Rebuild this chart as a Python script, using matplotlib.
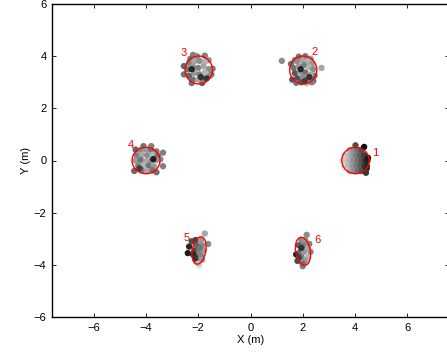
import numpy as np
import matplotlib.pyplot as plt
from matplotlib.patches import Ellipse

plt.rcParams['font.family'] = ['Liberation Sans', 'DejaVu Sans']

# fitted ellipses: centre x, centre y, width, height, angle
ell_x = [4.02, 2.02, -1.98, -4.0, -1.97, 2.01]
ell_y = [0.0, 3.47, 3.47, 0.0, -3.45, -3.48]
ell_w = [1.05, 1.04, 1.05, 1.07, 0.52, 0.56]
ell_h = [1.01, 1.07, 1.07, 1.01, 1.06, 1.08]
ell_a = [0, 0, 0, 0, -10, 10]

# label positions
lab_txt = ['1', '2', '3', '4', '5', '6']
lab_x = [4.78, 2.47, -2.54, -4.58, -2.43, 2.57]
lab_y = [0.28, 4.17, 4.13, 0.59, -2.98, -3.03]

# cluster 1 (gradient light -> dark from left to right)
c1_x = [3.52, 3.6, 3.6, 3.65, 3.75, 3.75, 3.8, 3.8, 3.8, 3.9, 3.9, 3.95, 3.95, 3.95,
        4.05, 4.05, 4.1, 4.1, 4.1, 4.2, 4.2, 4.25, 4.25, 4.25, 4.35, 4.35, 4.4, 4.4,
        4.45, 4.48, 4.02, 4.35, 4.5, 4.45, 4.42]
c1_y = [0.0, 0.2, -0.2, 0.0, 0.2, -0.2, 0.4, 0.0, -0.4, 0.2, -0.2, 0.4, 0.0, -0.4,
        0.2, -0.2, 0.4, 0.0, -0.4, 0.2, -0.2, 0.4, 0.0, -0.4, 0.2, -0.2, 0.0, -0.4,
        -0.2, 0.0, 0.58, 0.52, 0.1, -0.3, -0.47]
c1_g = [0.88, 0.82, 0.82, 0.78, 0.72, 0.72, 0.68, 0.68, 0.68, 0.6, 0.6, 0.56, 0.56, 0.56,
        0.48, 0.48, 0.44, 0.44, 0.44, 0.36, 0.36, 0.32, 0.32, 0.32, 0.24, 0.24, 0.2, 0.2,
        0.16, 0.14, 0.3, 0.05, 0.1, 0.15, 0.22]

# cluster 2
c2_x = [1.2, 2.72, 1.55, 1.6, 2.45, 2.4, 2.1, 1.85, 2.3, 1.7, 1.8, 2.0, 2.2, 2.35, 1.65,
        1.85, 2.05, 2.25, 2.4, 1.7, 1.9, 2.1, 2.3, 1.8, 2.0, 2.2, 1.75, 1.95, 2.15, 2.35,
        1.92, 2.25, 2.08]
c2_y = [3.82, 3.55, 3.7, 3.1, 3.25, 3.05, 4.0, 3.98, 3.9, 3.85, 3.8, 3.82, 3.78, 3.7, 3.55,
        3.6, 3.65, 3.58, 3.5, 3.35, 3.4, 3.38, 3.3, 3.15, 3.2, 3.12, 2.98, 3.0, 2.96, 3.0,
        3.5, 3.2, 3.05]
c2_g = [0.55, 0.65, 0.45, 0.35, 0.45, 0.4, 0.5, 0.45, 0.6, 0.5, 0.55, 0.65, 0.7, 0.6, 0.45,
        0.6, 0.5, 0.7, 0.55, 0.35, 0.6, 0.45, 0.65, 0.3, 0.55, 0.4, 0.45, 0.35, 0.75, 0.5,
        0.15, 0.2, 0.25]

# cluster 3
c3_x = [-2.2, -1.75, -2.55, -2.55, -1.45, -1.5, -2.25, -1.85, -2.05, -2.3, -1.6, -2.35,
        -2.15, -1.95, -1.75, -2.4, -2.2, -2.0, -1.8, -1.6, -2.35, -2.15, -1.95, -1.75,
        -1.55, -2.2, -2.0, -1.8, -2.25, -1.9, -1.68]
c3_y = [4.05, 4.02, 3.62, 3.3, 3.52, 3.3, 2.97, 2.97, 4.0, 3.9, 3.85, 3.75, 3.8, 3.82,
        3.78, 3.5, 3.6, 3.55, 3.62, 3.5, 3.25, 3.35, 3.3, 3.38, 3.25, 3.1, 3.1, 3.08,
        3.5, 3.2, 3.15]
c3_g = [0.5, 0.5, 0.4, 0.45, 0.5, 0.45, 0.45, 0.4, 0.55, 0.45, 0.6, 0.5, 0.65, 0.55,
        0.7, 0.45, 0.6, 0.5, 0.65, 0.55, 0.4, 0.6, 0.5, 0.7, 0.55, 0.45, 0.65, 0.5,
        0.15, 0.2, 0.2]

# cluster 4
c4_x = [-3.35, -3.35, -3.45, -3.8, -4.1, -4.4, -4.45, -3.6, -4.2, -4.0, -3.8, -3.6,
        -4.35, -4.15, -3.95, -3.75, -3.55, -4.4, -4.2, -4.0, -3.8, -3.6, -4.3, -4.1,
        -3.9, -3.7, -4.15, -3.95, -3.75, -3.72, -4.25]
c4_y = [0.3, -0.22, 0.05, 0.55, 0.55, 0.42, -0.4, -0.45, 0.4, 0.42, 0.4, 0.35, 0.2,
        0.22, 0.2, 0.22, 0.18, 0.0, 0.02, -0.02, 0.0, 0.02, -0.2, -0.18, -0.2, -0.22,
        -0.38, -0.4, -0.38, 0.05, -0.3]
c4_g = [0.5, 0.5, 0.55, 0.5, 0.45, 0.4, 0.4, 0.45, 0.55, 0.6, 0.45, 0.5, 0.5, 0.65,
        0.55, 0.7, 0.45, 0.6, 0.45, 0.65, 0.55, 0.6, 0.5, 0.7, 0.45, 0.6, 0.5, 0.65,
        0.45, 0.12, 0.25]

# cluster 5
c5_x = [-1.75, -1.62, -1.95, -2.35, -2.4, -2.25, -2.1, -1.9, -2.05, -1.85, -2.15,
        -1.95, -1.8, -2.1, -1.9, -2.05, -1.85, -2.0, -1.95, -2.2, -2.12]
c5_y = [-2.8, -3.2, -4.05, -3.3, -3.55, -3.1, -3.05, -3.05, -3.25, -3.25, -3.45,
        -3.45, -3.45, -3.65, -3.65, -3.85, -3.8, -3.95, -3.35, -3.6, -3.75]
c5_g = [0.65, 0.55, 0.9, 0.15, 0.1, 0.3, 0.25, 0.6, 0.4, 0.55, 0.3, 0.5, 0.6,
        0.35, 0.5, 0.45, 0.6, 0.75, 0.45, 0.15, 0.2]

# cluster 6
c6_x = [2.15, 2.25, 1.75, 2.0, 2.3, 1.95, 2.1, 1.85, 2.05, 2.2, 1.9, 2.05, 2.2, 1.95,
        2.1, 2.0, 1.8, 1.95, 1.85]
c6_y = [-2.85, -3.2, -3.6, -4.05, -3.5, -3.05, -3.05, -3.25, -3.25, -3.35, -3.5,
        -3.5, -3.7, -3.7, -3.85, -3.95, -3.85, -3.35, -3.72]
c6_g = [0.55, 0.5, 0.1, 0.5, 0.55, 0.55, 0.6, 0.35, 0.5, 0.65, 0.4, 0.6, 0.7, 0.5,
        0.6, 0.45, 0.3, 0.2, 0.25]


def main():
    fig = plt.figure(figsize=(4.47, 3.56), dpi=100)
    ax = fig.add_axes([52 / 447, 39 / 356, 397 / 447, 313 / 356])

    clusters = [(c1_x, c1_y, c1_g), (c2_x, c2_y, c2_g), (c3_x, c3_y, c3_g),
                (c4_x, c4_y, c4_g), (c5_x, c5_y, c5_g), (c6_x, c6_y, c6_g)]
    for cx, cy, cg in clusters:
        cols = [(g, g, g) for g in cg]
        ax.scatter(cx, cy, s=21, c=cols, edgecolors='none', zorder=2)

    for i in range(len(ell_x)):
        e = Ellipse((ell_x[i], ell_y[i]), ell_w[i], ell_h[i], angle=ell_a[i],
                    fill=False, edgecolor='red', linewidth=1.0, zorder=3)
        ax.add_patch(e)
        ax.text(lab_x[i], lab_y[i], lab_txt[i], color='red', fontsize=8,
                ha='center', va='center', zorder=4)

    ax.set_xlim(-7.6, 7.6)
    ax.set_ylim(-6, 6)
    ax.set_xticks(np.arange(-6, 7, 2))
    ax.set_yticks(np.arange(-6, 7, 2))
    ax.set_xticklabels(['\u22126', '\u22124', '\u22122', '0', '2', '4', '6'])
    ax.set_yticklabels(['\u22126', '\u22124', '\u22122', '0', '2', '4', '6'])
    ax.tick_params(direction='in', top=True, right=True, labelsize=8,
                   length=3, width=0.6, pad=4)
    for sp in ax.spines.values():
        sp.set_linewidth(1.0)
    ax.set_xlabel('X (m)', fontsize=8, labelpad=2)
    ax.set_ylabel('Y (m)', fontsize=8, labelpad=2)

    fig.savefig('out.png', dpi=100)


if __name__ == '__main__':

    main()
